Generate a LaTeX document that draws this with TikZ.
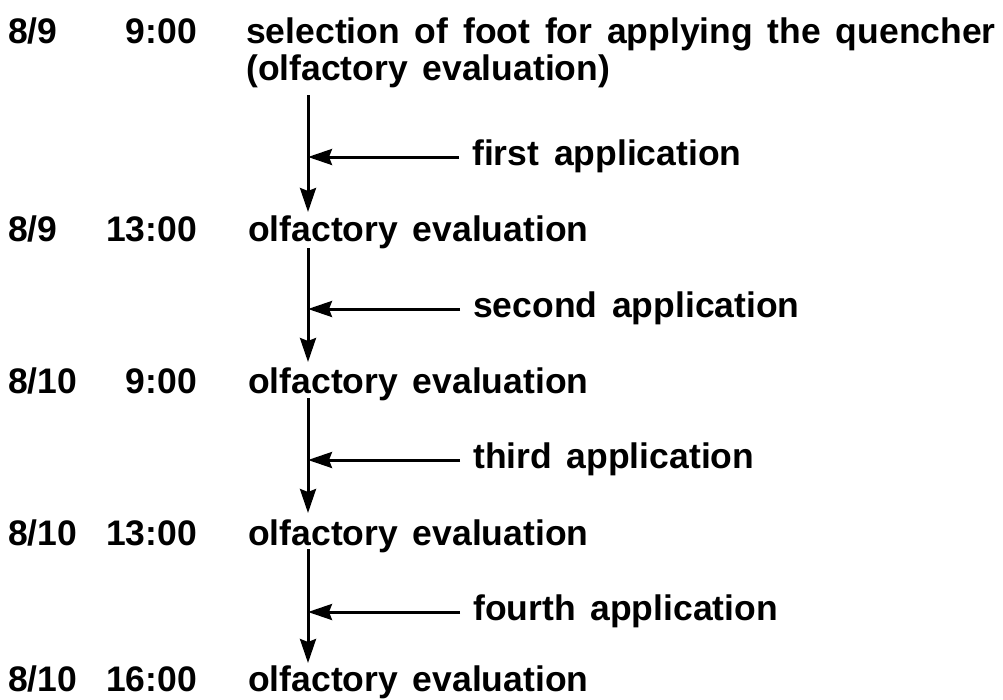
\documentclass[tikz,border=0pt]{standalone}
\usepackage{fontspec}
\setmainfont[WordSpace=1.5]{Liberation Sans}
\usetikzlibrary{arrows.meta,calc}
\begin{document}
\begin{tikzpicture}[x=1pt,y=1pt,
  txt/.style={inner sep=0pt,font=\fontsize{35.5}{44}\bfseries\selectfont},
  datel/.style={txt,anchor=base west},
  timel/.style={txt,anchor=base east},
  evl/.style={txt,anchor=base west},
  appl/.style={txt,anchor=base west},
  arr/.style={line width=3pt,-{Stealth[length=24pt,width=16pt,inset=3pt]}}]
\useasboundingbox (0,0) rectangle (1003,-699);
\coordinate (vx) at (308,0);
% rows
\node[datel] (d1) at (8,-43) {8/9};
\node[timel] (t1) at (197,-43) {9:00};
\node[evl] (e1) at (246,-43) {selection of foot for applying the quencher};
\node[evl] (e1b) at (246,-80) {(olfactory evaluation)};
\node[datel] (d2) at (8,-241) {8/9};
\node[timel] (t2) at (197,-241) {13:00};
\node[evl] (e2) at (248,-241) {olfactory evaluation};
\node[datel] (d3) at (8,-393) {8/10};
\node[timel] (t3) at (197,-393) {9:00};
\node[evl] (e3) at (248,-393) {olfactory evaluation};
\node[datel] (d4) at (8,-545) {8/10};
\node[timel] (t4) at (197,-545) {13:00};
\node[evl] (e4) at (248,-545) {olfactory evaluation};
\node[datel] (d5) at (8,-691) {8/10};
\node[timel] (t5) at (197,-691) {16:00};
\node[evl] (e5) at (248,-691) {olfactory evaluation};
% application labels
\node[appl] (a1) at (472,-165) {first application};
\node[appl] (a2) at (473,-317) {second application};
\node[appl] (a3) at (473,-468) {third application};
\node[appl] (a4) at (473,-620) {fourth application};
% vertical arrows
\draw[arr] ($(e1b.base -| vx)+(0,-15)$) -- ($(e2.base -| vx)+(0,29)$);
\draw[arr] ($(e2.base -| vx)+(0,-7)$) -- ($(e3.base -| vx)+(0,31)$);
\draw[arr] ($(e3.base -| vx)+(0,-5)$) -- ($(e4.base -| vx)+(0,32)$);
\draw[arr] ($(e4.base -| vx)+(0,-4)$) -- ($(e5.base -| vx)+(0,28)$);
% horizontal arrows
\foreach \i in {1,...,4}{
  \draw[arr] ($(a\i.base west)+(-13,8)$) -- ($(a\i.base west -| vx)+(0,8)$);
}
\end{tikzpicture}
\end{document}
